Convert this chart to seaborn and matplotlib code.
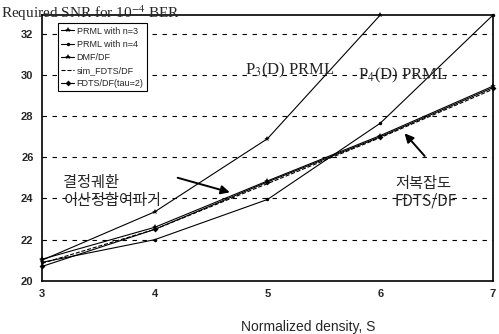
import numpy as np
import pandas as pd
import matplotlib
matplotlib.use("Agg")
import matplotlib.pyplot as plt
import seaborn as sns

sns.set_theme(style="white")
plt.rcParams['font.family'] = ['Liberation Sans', 'DejaVu Sans']
plt.rcParams['mathtext.fontset'] = 'stix'

# data
density = [3, 4, 5, 6, 7]
prml_n3 = [21.0, 23.35, 26.9, 32.9]
prml_n4 = [20.9, 22.0, 23.95, 27.65, 32.9]
dmf_df = [21.05, 22.6, 24.85, 27.05, 29.45]
sim_fdts_df = [20.85, 22.5, 24.72, 26.95, 29.3]
fdts_df = [20.7, 22.5, 24.8, 26.99, 29.38]

series = [
    ("PRML with n=3", density[:4], prml_n3, "-", "*", 4),
    ("PRML with n=4", density, prml_n4, "-", "o", 2.5),
    ("DMF/DF", density, dmf_df, "-", "*", 4),
    ("sim_FDTS/DF", density, sim_fdts_df, "--", None, 0),
    ("FDTS/DF(tau=2)", density, fdts_df, "-", "D", 3),
]

fig = plt.figure(figsize=(4.99, 3.34), dpi=100)
ax = fig.add_axes([0.084, 0.159, 0.904, 0.796])

for label, xs, ys, ls, mk, ms in series:
    df = pd.DataFrame({"x": xs, "y": ys})
    sns.lineplot(data=df, x="x", y="y", ax=ax, color="black", linewidth=0.8,
                 linestyle=ls, marker=mk, markersize=ms, markeredgewidth=0,
                 label=label, clip_on=False)

ax.set_xlim(3, 7)
ax.set_ylim(20, 32.9)
ax.set_xticks(density)
ax.set_yticks([20, 22, 24, 26, 28, 30, 32])
for yv in [22, 24, 26, 28, 30, 32]:
    ax.axhline(yv, color="black", linestyle=(0, (4, 5)), linewidth=0.8, zorder=0)
ax.tick_params(length=0, labelsize=8, pad=6)
for t in ax.get_xticklabels() + ax.get_yticklabels():
    t.set_fontweight("bold")
ax.set_xlabel("")
ax.set_ylabel("")
for s in ax.spines.values():
    s.set_color("black")
    s.set_linewidth(1.2)

leg = ax.legend(loc="upper left", bbox_to_anchor=(0.035, 0.97), fontsize=6.5,
                frameon=True, fancybox=False, handlelength=1.4, handletextpad=0.3,
                borderpad=0.4, labelspacing=0.45, borderaxespad=0)
leg.get_frame().set_edgecolor("black")
leg.get_frame().set_linewidth(0.8)
leg.get_frame().set_alpha(1)

fig.text(0.002, 0.946, "Required SNR for 10$^{-4}$ BER", fontsize=11,
         family="Liberation Serif", va="baseline")
ax.text(4.8, 30.2, "P$_3$(D) PRML", fontsize=12, family="Liberation Serif", va="center")
ax.text(5.8, 29.98, "P$_4$(D) PRML", fontsize=12, family="Liberation Serif", va="center")
ax.text(3.19, 24.35, "결정궤환\n이산정합여파기", fontsize=11, family=["Noto Sans CJK KR"],
        va="center", linespacing=1.05)
ax.text(6.13, 24.3, "저복잡도\nFDTS/DF", fontsize=11, family=["Noto Sans CJK KR"],
        va="center", linespacing=1.05)
ax.annotate("", xy=(4.69, 24.26), xytext=(4.18, 25.04),
            arrowprops=dict(arrowstyle="-|>", color="black", lw=1.4, mutation_scale=13))
ax.annotate("", xy=(6.2, 27.26), xytext=(6.41, 25.96),
            arrowprops=dict(arrowstyle="-|>", color="black", lw=1.4, mutation_scale=13))

fig.text(0.617, 0.009, "Normalized density, S", fontsize=10, ha="center", va="baseline")

fig.savefig("out.png", dpi=100)
